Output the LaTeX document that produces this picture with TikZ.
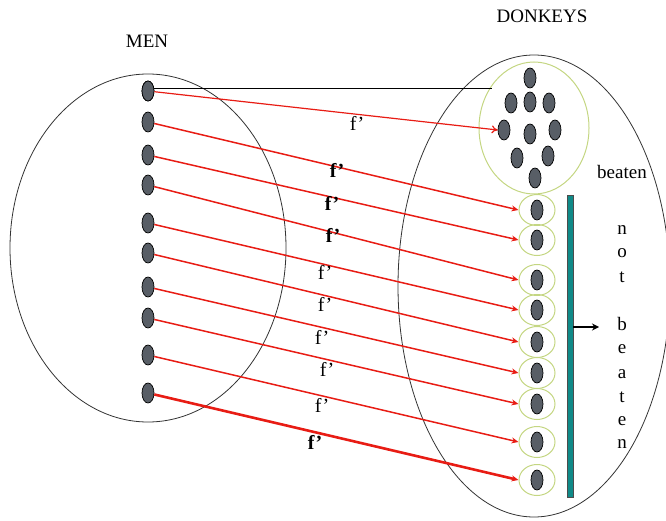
\documentclass[tikz,border=0pt]{standalone}
\usepackage{fontspec}
\setmainfont{Liberation Serif}
\usetikzlibrary{arrows.meta,shapes.geometric}
\definecolor{dotfill}{RGB}{88,94,102}
\definecolor{redarr}{RGB}{232,28,20}
\definecolor{greenc}{RGB}{196,214,130}
\definecolor{tealbar}{RGB}{16,138,136}
\begin{document}
\begin{tikzpicture}[x=1pt,y=-1pt,
  dot/.style={ellipse, draw=black, line width=0.7pt, fill=dotfill, minimum width=12pt, minimum height=20pt, inner sep=0pt},
  small/.style={ellipse, draw=greenc, line width=1pt, minimum width=36pt, minimum height=31pt, inner sep=0pt},
  setell/.style={ellipse, draw=black!80, line width=0.8pt, inner sep=0pt},
  fa/.style={draw=redarr, line width=1.5pt, -{Stealth[length=7pt,width=6pt]}},
  lab/.style={font=\fontsize{20}{20}\selectfont, inner sep=0pt, anchor=base},
  blab/.style={lab, font=\fontsize{20}{20}\selectfont\bfseries},
  ttl/.style={font=\fontsize{19}{19}\selectfont, inner sep=0pt, anchor=base},
]
\useasboundingbox (0,0) rectangle (666,521);
% sets
\node[setell, minimum width=276pt, minimum height=348pt] (men) at (148,248) {};
\node[setell, minimum width=272pt, minimum height=462pt] (donkeys) at (534,286) {};
\node[ellipse, draw=greenc, line width=1pt, minimum width=110pt, minimum height=132pt, inner sep=0pt] (beatenset) at (534,128) {};
% titles
\node[ttl] (tmen) at (147,48) {MEN};
\node[ttl] (tdon) at (542,23) {DONKEYS};
% men
\foreach \y [count=\i] in {91,122,155,185,223,253,287,318,355,393}
  \node[dot] (m\i) at (148,\y) {};
% donkeys in big circle
\node[dot] (d1) at (530,78) {};
\node[dot] (d2) at (511,103) {};
\node[dot] (d3) at (530,102) {};
\node[dot] (d4) at (549,103) {};
\node[dot] (d5) at (504,130) {};
\node[dot] (d6) at (530,134) {};
\node[dot] (d7) at (555,130) {};
\node[dot] (d8) at (517,158) {};
\node[dot] (d9) at (548,156) {};
\node[dot] (d10) at (535,178) {};
% small circles with donkeys
\foreach \y [count=\i] in {210,240,280,310,342,373,404,442,480} {
  \node[small] (s\i) at (537,\y) {};
  \node[dot] (sd\i) at (537,\y) {};
}
% black line
\coordinate (topend) at (492,88);
\draw[black, line width=0.8pt] (m1.center |- topend) -- (topend);
\node[dot] at (m1) {};
% red arrows
\draw[draw=redarr, line width=1.2pt, -{To[length=6pt,width=8pt]}] (m1) -- (d5.west);
\foreach \i [evaluate=\i as \j using int(\i-1)] in {2,...,9}
  \draw[fa] (m\i) -- (s\j.west);
\draw[fa, line width=2.6pt] (m10) -- (s9.west);
% labels
\node[lab] (f1) at (357,131) {f'};
\node[blab] (f2) at (337,178) {f'};
\node[blab] (f3) at (332,211) {f'};
\node[blab] (f4) at (333,243) {f'};
\node[lab] (f5) at (325,279) {f'};
\node[lab] (f6) at (325,311) {f'};
\node[lab] (f7) at (322,344) {f'};
\node[lab] (f8) at (327,376) {f'};
\node[lab] (f9) at (322,412) {f'};
\node[blab] (f10) at (315,449) {f'};
% bar
\node[rectangle, draw=black!70, fill=tealbar, line width=0.6pt, minimum width=6pt, minimum height=302pt, inner sep=0pt] (bar) at (570,346) {};
\coordinate (barend) at (599,327);
\draw[black, line width=1.6pt, -{Stealth[length=7pt,width=7pt]}] (bar.east |- barend) -- (barend);
% texts
\node[ttl] (tbeaten) at (622,179) {beaten};
\foreach \c/\y [count=\k] in {n/235,o/258,t/282,b/330,e/353,a/378,t/402,e/425,n/448}
  \node[ttl] (nb\k) at (622,\y) {\c};
\end{tikzpicture}
\end{document}
